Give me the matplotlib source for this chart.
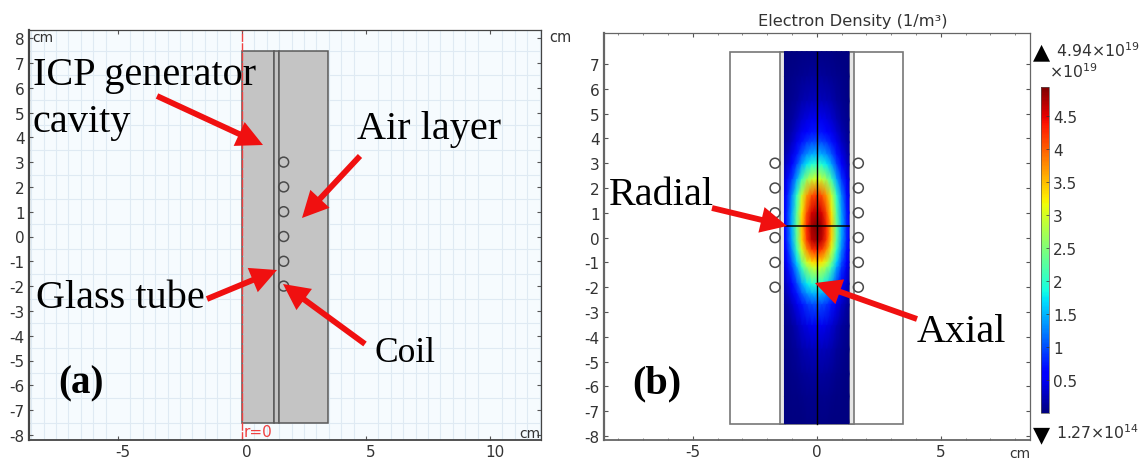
import numpy as np
import matplotlib
matplotlib.use('Agg')
import matplotlib.pyplot as plt
from matplotlib.patches import Rectangle, Circle
from matplotlib.ticker import MultipleLocator
from matplotlib.transforms import ScaledTranslation

plt.rcParams['axes.unicode_minus'] = False

W, H = 1141, 460

coil_y = [3, 2, 1, 0, -1, -2]
coil_r = 1.68
tube_in = 1.29
tube_out = 1.5
outer_r = 3.48
half_len = 7.5

# density, 1e19 /m3
r_cols = [0, 0.2, 0.4, 0.6, 0.8, 1.0, 1.2, 1.3]
y_rows = [7.5, 6.5, 5.5, 4.75, 4.25, 3.85, 3.35, 2.95, 2.35, 1.7, 1.0, 0.45,
          -0.1, -0.5, -1, -1.2, -1.87, -2.27, -2.7, -3.56, -4.5, -5.5, -6.4, -7.5]
density = [
    [.03, .03, .03, .02, .01, .01, .01, .00],
    [.12, .12, .10, .08, .06, .04, .02, .01],
    [.28, .27, .24, .20, .13, .08, .05, .03],
    [.50, .49, .44, .35, .24, .15, .09, .06],
    [.72, .70, .63, .50, .35, .22, .12, .09],
    [1.0, .97, .87, .70, .48, .30, .17, .12],
    [1.5, 1.46, 1.31, 1.05, .72, .45, .26, .18],
    [2.0, 1.94, 1.74, 1.40, .96, .60, .34, .24],
    [3.0, 2.91, 2.61, 2.10, 1.44, .90, .51, .36],
    [4.2, 4.07, 3.65, 2.94, 2.02, 1.26, .71, .50],
    [4.7, 4.56, 4.09, 3.29, 2.26, 1.41, .80, .56],
    [4.94, 4.79, 4.30, 3.46, 2.37, 1.48, .84, .59],
    [4.8, 4.66, 4.18, 3.36, 2.30, 1.44, .82, .58],
    [4.3, 4.17, 3.74, 3.01, 2.06, 1.29, .73, .52],
    [3.4, 3.30, 2.96, 2.38, 1.63, 1.02, .58, .41],
    [3.0, 2.91, 2.61, 2.10, 1.44, .90, .51, .36],
    [2.0, 1.94, 1.74, 1.40, .96, .60, .34, .24],
    [1.5, 1.46, 1.31, 1.05, .72, .45, .26, .18],
    [1.0, .97, .87, .70, .48, .30, .17, .12],
    [.50, .49, .44, .35, .24, .15, .09, .06],
    [.28, .27, .24, .20, .13, .08, .05, .03],
    [.14, .14, .12, .10, .07, .04, .02, .02],
    [.07, .07, .06, .05, .03, .02, .01, .01],
    [.02, .02, .02, .01, .01, .01, .00, .00],
]
radial_y = 0.45
cbar_ticks = [0.5, 1, 1.5, 2, 2.5, 3, 3.5, 4, 4.5]
cbar_labels = ['0.5', '1', '1.5', '2', '2.5', '3', '3.5', '4', '4.5']


def box(x0, y0, x1, y1):
    # pixel box -> figure fractions
    return [x0 / W, 1 - y1 / H, (x1 - x0) / W, (y1 - y0) / H]


def style_axes(ax, col):
    ax.xaxis.set_major_locator(MultipleLocator(5))
    ax.xaxis.set_minor_locator(MultipleLocator(1))
    ax.yaxis.set_major_locator(MultipleLocator(1))
    ax.tick_params(which='both', direction='in', top=True, right=True, color='#555555',
                   labelcolor='#333333', labelsize=11, pad=3)
    ax.tick_params(which='major', length=3, width=0.8)
    ax.tick_params(which='minor', length=1.5, width=0.5)
    for s in ax.spines.values():
        s.set_color(col)
        s.set_linewidth(0.9)
    ax.spines['left'].set_linewidth(1.6)
    ax.spines['bottom'].set_linewidth(1.3)


fig = plt.figure(figsize=(W / 100, H / 100), dpi=100)

# (a) geometry
ax = fig.add_axes(box(29, 31, 541, 441))
ax.set_xlim((29 - 242) / 24.8, (541 - 242) / 24.8)
ax.set_ylim((237.5 - 441) / 24.8, (237.5 - 31) / 24.8)
ax.set_facecolor('#f6fbfe')
style_axes(ax, '#444444')
ax.xaxis.set_minor_locator(MultipleLocator(0.5))
ax.yaxis.set_minor_locator(MultipleLocator(0.5))
ax.set_xticks([-5, 0, 5, 10])
ax.set_yticks(range(-8, 9))
ax.grid(which='minor', color='#dfeaf3', lw=0.8)
ax.set_axisbelow(True)
ax.tick_params(which='minor', length=0)
# the x labels sit a little right of their ticks here
shift = ScaledTranslation(5 / 100, 0, fig.dpi_scale_trans)
for lab in ax.get_xticklabels():
    lab.set_transform(lab.get_transform() + shift)
for x0, x1 in [(0, tube_in), (tube_in, tube_out), (tube_out, outer_r)]:
    ax.add_patch(Rectangle((x0, -half_len), x1 - x0, 2 * half_len, fc='#c4c4c4', ec='#5a5a5a', lw=1.1))
for y in coil_y:
    ax.add_patch(Circle((coil_r, y), 0.2, fc='none', ec='#4a4a4a', lw=1.1))
ax.axvline(0, color='#f04040', lw=1, ls=(0, (6, 1)))

# (b) plasma
ax2 = fig.add_axes(box(604, 34, 1030, 441))
ax2.set_xlim((604 - 816.7) / 24.8, (1030 - 816.7) / 24.8)
ax2.set_ylim((238.6 - 441) / 24.8, (238.6 - 34) / 24.8)
style_axes(ax2, '#666666')
ax2.set_xticks([-5, 0, 5])
ax2.set_yticks(range(-8, 8))

half = np.array(density)
full = np.hstack([half[:, :0:-1], half])
xs = np.array([-v for v in r_cols[:0:-1]] + r_cols)
mesh = ax2.pcolormesh(xs, y_rows, full, cmap='jet', vmin=0, vmax=4.94, shading='gouraud', zorder=2)
ax2.add_patch(Rectangle((-outer_r, -half_len), 2 * outer_r, 2 * half_len, fc='white', ec='#777777', lw=1.2, zorder=1))
for sign in (-1, 1):
    ax2.add_patch(Rectangle((min(sign * tube_in, sign * tube_out), -half_len), tube_out - tube_in, 2 * half_len,
                            fc='#e6e6e6', ec='#777777', lw=1.2, zorder=1.5))
    for y in coil_y:
        ax2.add_patch(Circle((sign * coil_r, y), 0.2, fc='none', ec='#4a4a4a', lw=1.1, zorder=3))
ax2.plot([0, 0], [-half_len, half_len], color='black', lw=1, zorder=4)
ax2.plot([-tube_in, tube_in], [radial_y, radial_y], color='black', lw=1.1, zorder=4)

cax = fig.add_axes(box(1040.5, 88, 1049, 414))
cb = fig.colorbar(mesh, cax=cax, ticks=cbar_ticks)
cb.ax.set_yticklabels(cbar_labels)
cb.ax.tick_params(direction='in', length=2, width=0.5, colors='#333333', labelsize=11, pad=3)
cb.outline.set_edgecolor('#555555')
cb.outline.set_linewidth(0.5)

# labels and arrows in picture pixels
ov = fig.add_axes([0, 0, 1, 1])
ov.set_xlim(0, W)
ov.set_ylim(H, 0)
ov.axis('off')
ov.patch.set_alpha(0)

serif = dict(family='Liberation Serif', color='black', fontsize=29, va='baseline')
ov.text(33, 85, 'ICP generator', **serif)
ov.text(33, 132, 'cavity', **serif)
ov.text(357, 139, 'Air layer', **serif)
ov.text(36, 308, 'Glass tube', **serif)
ov.text(374, 362, 'Coil', family='Liberation Serif', color='black', fontsize=25.5, va='baseline')
ov.text(58, 393, '(a)', family='Liberation Serif', color='black', fontsize=28, fontweight='bold', va='baseline')
ov.text(632, 393, '(b)', family='Liberation Serif', color='black', fontsize=29, fontweight='bold', va='baseline')
ov.text(609, 205, 'Radial', **serif)
ov.text(917, 342, 'Axial', **serif)

arrows = [((157, 97), (263, 146)), ((360, 157), (302, 219)), ((207, 300), (277, 271)),
          ((365, 345), (283, 285)), ((712, 209), (787, 227)), ((917, 320), (815, 284))]
for tail, tip in arrows:
    ov.annotate('', xy=tip, xytext=tail, xycoords='data', textcoords='data',
                arrowprops=dict(arrowstyle='simple,head_length=1.35,head_width=1.35,tail_width=0.3',
                                fc='#f01010', ec='none', mutation_scale=14, shrinkA=0, shrinkB=0))

gray = dict(family='DejaVu Sans', color='#333333')
ov.text(853, 26, 'Electron Density (1/m³)', fontsize=11.7, ha='center', **gray)
ov.text(32, 42, 'cm', fontsize=10, **gray)
ov.text(549, 42, 'cm', fontsize=10.5, **gray)
ov.text(519, 438, 'cm', fontsize=10, **gray)
ov.text(1009, 458, 'cm', fontsize=10, **gray)
ov.text(244, 437, 'r=0', fontsize=11, family='DejaVu Sans', color='#f04040')
ov.text(1033, 58, '▲', fontsize=16, family='DejaVu Sans', color='black')
ov.text(1033, 441, '▼', fontsize=16, family='DejaVu Sans', color='black')
ov.text(1056, 57, '4.94×10$^{19}$', fontsize=11.3, **gray)
ov.text(1049, 78, '×10$^{19}$', fontsize=11.3, **gray)
ov.text(1056, 439, '1.27×10$^{14}$', fontsize=11.3, **gray)

fig.savefig('out.png', dpi=100)
